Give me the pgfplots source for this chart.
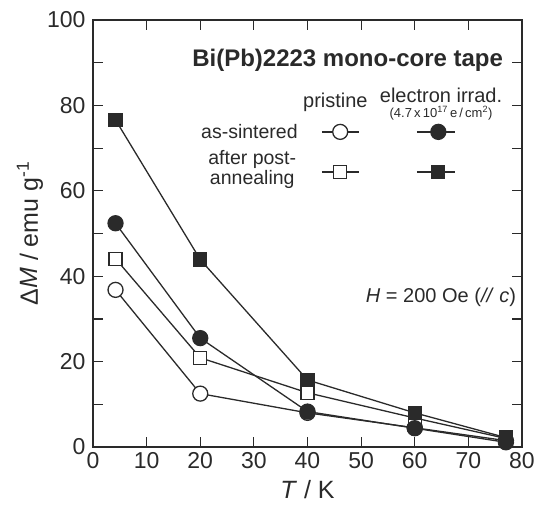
\documentclass[border=0pt]{standalone}
\usepackage{fontspec}
\setmainfont{Liberation Sans}
\usepackage{pgfplots}
\pgfplotsset{compat=1.18}
\definecolor{ink}{HTML}{2A2A2A}
\begin{document}
\begin{tikzpicture}
\begin{axis}[
  scale only axis, width=429pt, height=427pt,
  at={(0,0)}, anchor=south west,
  xmin=0, xmax=80, ymin=0, ymax=100,
  xtick={0,10,...,80}, ytick={0,20,...,100}, minor ytick={10,30,...,90},
  major tick length=10pt, minor tick length=10pt,
  tick style={ink, line width=1.2pt},
  axis line style={ink, line width=1.5pt},
  /pgf/number format/assume math mode=true,
  ticklabel style={font=\fontsize{23}{27}\selectfont, text=ink},
  yticklabel style={xshift=-4pt},
  xticklabel style={yshift=-2pt},
  xlabel={\textit{T} / K},
  ylabel={Δ\textit{M} / emu g\textsuperscript{-1}},
  label style={font=\fontsize{25}{30}\selectfont, text=ink},
  xlabel style={at={(axis description cs:0.5,-0.10)}, anchor=center},
  ylabel style={at={(axis description cs:-0.147,0.5)}, anchor=center},
  clip=false,
  every axis plot/.append style={ink, line width=1.3pt},
]
% open circle: pristine, as-sintered
\addplot[mark=*, mark size=7.5pt, mark options={fill=white, draw=ink, line width=1.3pt}] coordinates {
 (4.2,36.8) (20,12.5) (40,8.0) (60,4.5) (77,1.5)};
% open square: pristine, after post-annealing
\addplot[mark=square*, mark size=6.5pt, mark options={fill=white, draw=ink, line width=1.3pt}] coordinates {
 (4.2,44.1) (20,20.9) (40,12.7) (60,6.8) (77,2.0)};
% filled square: electron irrad., after post-annealing
\addplot[mark=square*, mark size=6.5pt, mark options={fill=ink, draw=ink}] coordinates {
 (4.2,76.6) (20,43.9) (40,15.7) (60,8.0) (77,2.2)};
% filled circle: electron irrad., as-sintered
\addplot[mark=*, mark size=7.5pt, mark options={fill=ink, draw=ink}] coordinates {
 (4.2,52.4) (20,25.5) (40,8.3) (60,4.4) (77,1.1)};

% legend symbols
\addplot[mark=*, mark size=7.5pt, mark indices={2}, mark options={fill=white, draw=ink, line width=1.3pt}] coordinates {(42.7,73.8) (46.1,73.8) (49.6,73.8)};
\addplot[mark=*, mark size=7.5pt, mark indices={2}, mark options={fill=ink, draw=ink}] coordinates {(60.4,73.8) (64.4,73.8) (67.5,73.8)};
\addplot[mark=square*, mark size=6.5pt, mark indices={2}, mark options={fill=white, draw=ink, line width=1.3pt}] coordinates {(42.7,64.4) (46.1,64.4) (49.6,64.4)};
\addplot[mark=square*, mark size=6.5pt, mark indices={2}, mark options={fill=ink, draw=ink}] coordinates {(60.4,64.4) (64.4,64.4) (67.5,64.4)};

\node[anchor=east, text=ink, font=\fontsize{24}{28}\selectfont\bfseries, inner sep=0pt] at (axis cs:76.5,90.6) {Bi(Pb)2223 mono-core tape};
\node[text=ink, font=\fontsize{20}{24}\selectfont, inner sep=0pt] at (axis cs:45.2,80.8) {pristine};
\node[text=ink, font=\fontsize{20}{24}\selectfont, inner sep=0pt] at (axis cs:64.9,82.4) {electron irrad.};
\node[text=ink, font=\fontsize{13}{16}\selectfont, inner sep=0pt] at (axis cs:64.9,78.2) {(4.7\,x\,10\textsuperscript{17}\,e\,/\,cm\textsuperscript{2})};
\node[anchor=east, text=ink, font=\fontsize{19.5}{24}\selectfont, inner sep=0pt] at (axis cs:38.2,73.8) {as-sintered};
\node[align=center, text=ink, font=\fontsize{19.5}{16}\selectfont, inner sep=0pt] at (axis cs:29.7,65.0) {after post-\\annealing};
\node[text=ink, font=\fontsize{20}{24}\selectfont, inner sep=0pt] at (axis cs:64.9,35.1) {\textit{H} = 200 Oe (\textit{//} \textit{c})};
\end{axis}
\pgfresetboundingbox
\path[use as bounding box] (-93pt,-57pt) rectangle (450pt,447pt);
\end{tikzpicture}
\end{document}
